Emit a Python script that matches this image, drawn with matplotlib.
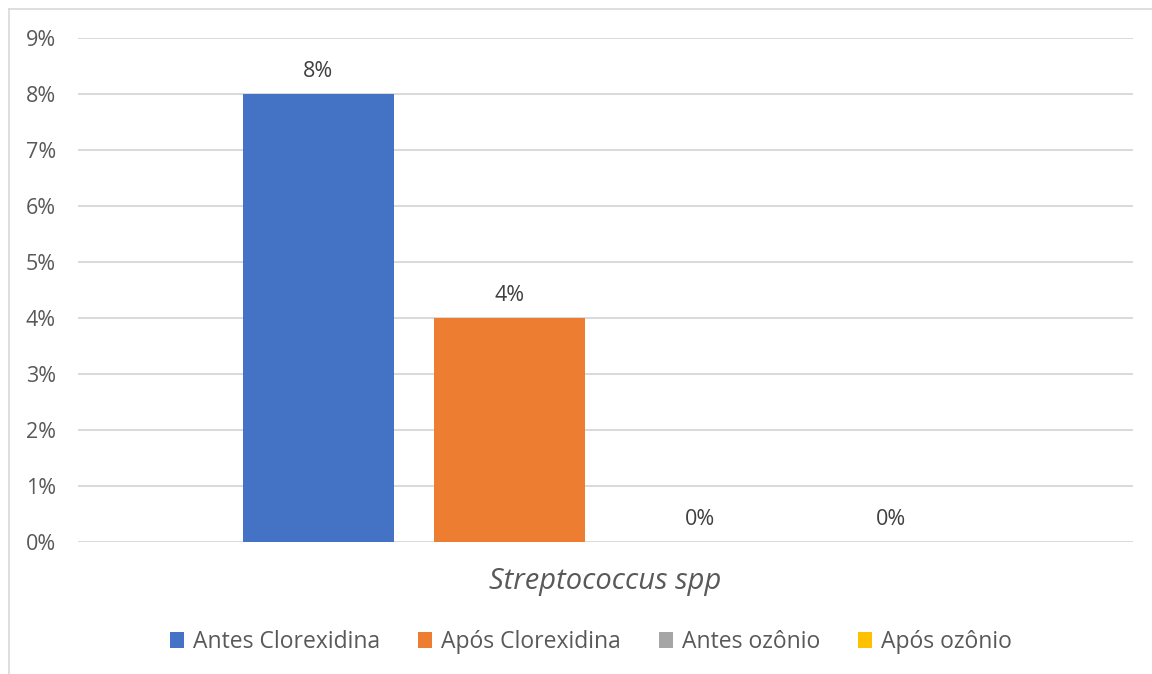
import matplotlib.pyplot as plt
from matplotlib.lines import Line2D

# Data
series = ['Antes Clorexidina', 'Após Clorexidina', 'Antes ozônio', 'Após ozônio']
values = [8, 4, 0, 0]  # percent
colors = ['#4472C4', '#ED7D31', '#A5A5A5', '#FFC000']
category = 'Streptococcus spp'
yticks = list(range(0, 10))

plt.rcParams['font.family'] = ['Open Sans', 'DejaVu Sans']

fig = plt.figure(figsize=(11.52, 6.74), dpi=100)
ax = fig.add_axes([78 / 1152, 1 - 542 / 674, (1133 - 78) / 1152, (542 - 38) / 674])

x = list(range(len(series)))
bars = ax.bar(x, values, width=151 / 191, color=colors, label=series, zorder=3)

for xi, v in zip(x, values):
    ax.text(xi, v + 0.22, f'{v}%', ha='center', va='bottom', fontsize=15.5, color='#404040')

ax.set_ylim(0, 9)
ax.set_xlim(-(318.5 - 78) / 191, 3 + (1133 - 891.5) / 191)
ax.set_yticks(yticks)
ax.set_yticklabels([f'{t}%' for t in yticks])
ax.set_xticks([])
ax.grid(axis='y', color='#D9D9D9', linewidth=1.4, zorder=0)
for s in ax.spines.values():
    s.set_visible(False)
ax.tick_params(axis='y', length=0, pad=16, labelsize=15.5, labelcolor='#595959')

fig.text(605 / 1152, 1 - 581 / 674, category, ha='center', va='center',
         fontsize=21, style='italic', color='#595959')

fig.legend(handles=bars, labels=series, loc='center', bbox_to_anchor=(591 / 1152, 1 - 642 / 674),
           ncol=4, frameon=False, fontsize=16.5, labelcolor='#595959', handlelength=0.6,
           handleheight=0.7, handletextpad=0.4, columnspacing=1.65)

# outer chart border (left and top)
fig.add_artist(Line2D([9 / 1152, 9 / 1152], [0, 1 - 9 / 674], color='#D9D9D9', lw=1.2))
fig.add_artist(Line2D([9 / 1152, 1], [1 - 9 / 674, 1 - 9 / 674], color='#D9D9D9', lw=1.2))

fig.savefig('out.png', dpi=100)
